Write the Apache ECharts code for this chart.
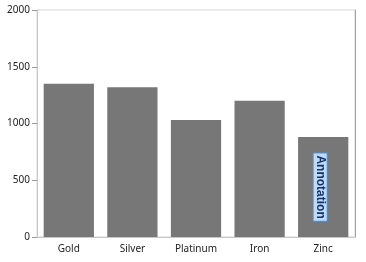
<!DOCTYPE html>
<html>
<head>
<meta charset="utf-8">
<script src="https://cdn.jsdelivr.net/npm/echarts@6/dist/echarts.min.js"></script>
<style>
  html, body { margin: 0; padding: 0; background: #fff; }
  #chart { width: 366px; height: 262px; }
</style>
</head>
<body>
<div id="chart"></div>
<script>
// metals and their values
const categories = ['Gold', 'Silver', 'Platinum', 'Iron', 'Zinc']
const values = [1350, 1320, 1030, 1200, 880]
const yTicks = [0, 500, 1000, 1500, 2000]
const annotationText = 'Annotation'
const annotationIndex = 4

const chart = echarts.init(document.getElementById('chart'))

const seriesData = values.map((v, i) => {
  if (i !== annotationIndex) return v
  return {
    value: v,
    label: {
      show: true,
      position: 'inside',
      offset: [0, 3],
      rotate: -90,
      formatter: annotationText,
      color: '#1b2f66',
      fontWeight: 'bold',
      fontSize: 12,
      fontFamily: 'Liberation Sans',
      backgroundColor: '#b9dcff',
      borderColor: '#5a8fd0',
      borderWidth: 1,
      padding: [1, 2, 0, 2]
    }
  }
})

chart.setOption({
  animation: false,
  textStyle: { fontFamily: 'Noto Sans' },
  grid: {
    left: 37, right: 11, top: 10, bottom: 25,
    show: true,
    borderColor: '#d4d4d4',
    borderWidth: 1
  },
  xAxis: {
    type: 'category',
    data: categories,
    axisLine: { lineStyle: { color: '#c8c8c8' } },
    axisTick: { alignWithLabel: true, length: 4, lineStyle: { color: '#999' } },
    axisLabel: { color: '#222', fontSize: 10, margin: 7 }
  },
  yAxis: [
    {
      type: 'value',
      min: yTicks[0],
      max: yTicks[yTicks.length - 1],
      interval: 500,
      splitLine: { show: false },
      axisLine: { show: true, lineStyle: { color: '#c8c8c8' } },
      axisTick: { show: true, length: 5, lineStyle: { color: '#999' } },
      axisLabel: { color: '#222', fontSize: 10, margin: 7, formatter: v => String(v) }
    },
    {
      type: 'value',
      position: 'right',
      min: 0, max: 2000,
      splitLine: { show: false },
      axisLine: { show: true, lineStyle: { color: '#a0a0a0' } },
      axisTick: { show: false },
      axisLabel: { show: false }
    }
  ],
  series: [{
    type: 'bar',
    data: seriesData,
    barWidth: '79%',
    itemStyle: { color: '#777777' },
    label: { show: false }
  }]
})
</script>
</body>
</html>
